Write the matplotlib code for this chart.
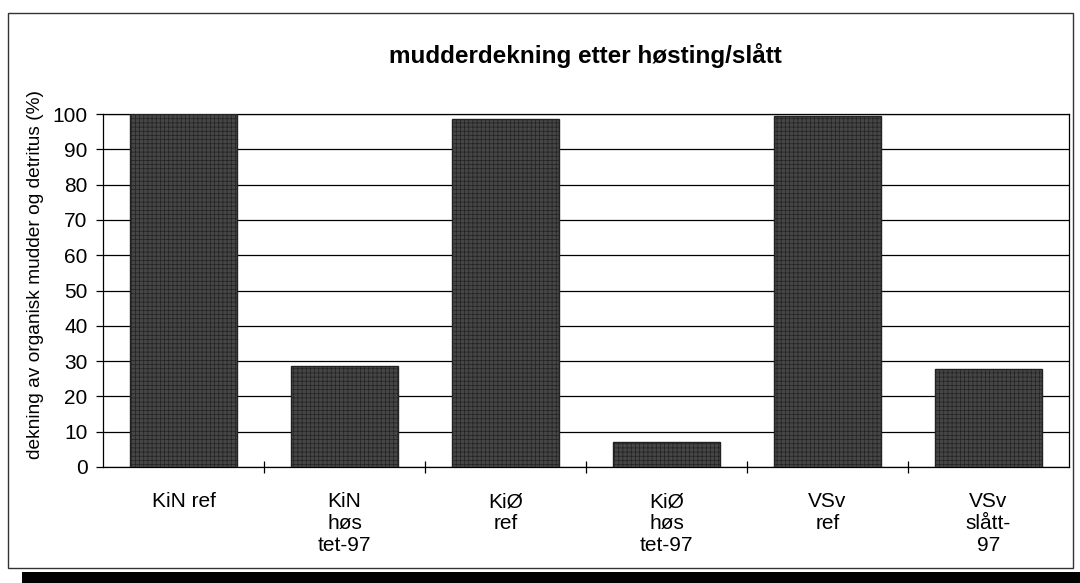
import matplotlib
matplotlib.use("Agg")
import matplotlib.pyplot as plt
from matplotlib.patches import Rectangle
import numpy as np

categories = ["KiN ref", "KiN\nhøs\ntet-97", "KiØ\nref", "KiØ\nhøs\ntet-97", "VSv\nref", "VSv\nslått-\n97"]
values = [100, 28.6, 98.6, 7.2, 99.3, 27.8]
yticks = list(range(0, 101, 10))

plt.rcParams['font.family'] = ['Liberation Sans', 'DejaVu Sans']
plt.rcParams['hatch.color'] = '#8a8a8a'
plt.rcParams['hatch.linewidth'] = 0.5

fig = plt.figure(figsize=(10.8, 5.83), dpi=100)
W, H = 1080, 583
ax = fig.add_axes([103 / W, 1 - 467 / H, (1069 - 103) / W, (467 - 114) / H])

x = np.arange(len(categories))
ax.bar(x, values, width=0.66, color='#464646', edgecolor='#222222', linewidth=1.0,
       hatch='++++', zorder=3)

ax.set_xlim(-0.5, len(categories) - 0.5)
ax.set_ylim(0, 100)
ax.set_yticks(yticks)
ax.set_yticklabels([str(t) for t in yticks], fontsize=15)
ax.yaxis.grid(True, color='black', linewidth=0.9, zorder=0)
ax.set_axisbelow(True)

ax.set_xticks(x)
ax.set_xticklabels(categories, fontsize=15, linespacing=1.2, va='top')
ax.tick_params(axis='x', length=0, pad=18)
ax.set_xticks(np.arange(0.5, len(categories) - 0.5, 1), minor=True)
ax.tick_params(axis='x', which='minor', length=8, direction='inout', width=0.9)
ax.tick_params(axis='y', length=5, direction='out', width=0.9, pad=6)

for s in ax.spines.values():
    s.set_linewidth(0.9)
    s.set_color('black')

ax.set_ylabel("dekning av organisk mudder og detritus (%)", fontsize=13.8)
ax.yaxis.set_label_coords((44 - 103) / 966, (467 - 275) / 353)
fig.text(585 / W, 1 - 56 / H, "mudderdekning etter høsting/slått",
         ha='center', va='center', fontsize=17.5, fontweight='bold')

# outer border and black band at bottom
fig.patches.append(Rectangle((8 / W, 1 - 568 / H), (1073 - 8) / W, (568 - 13) / H,
                             transform=fig.transFigure, fill=False, edgecolor='#333333',
                             linewidth=1.0))
fig.patches.append(Rectangle((22 / W, 0), 1 - 22 / W, 11 / H, transform=fig.transFigure,
                             facecolor='black', edgecolor='none'))

fig.savefig("out.png", dpi=100)
